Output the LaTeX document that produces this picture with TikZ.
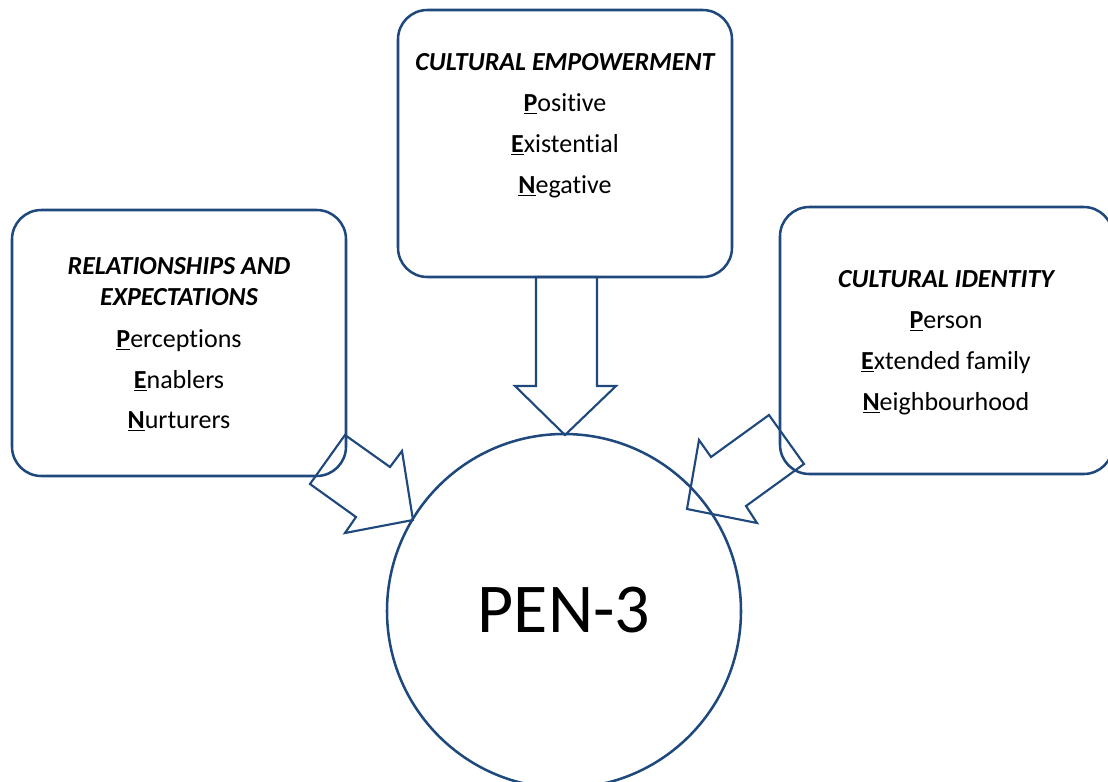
\documentclass[tikz,border=0pt]{standalone}
\usepackage{fontspec}
\setmainfont{Carlito}[RawFeature={-liga;-clig;-calt;-dlig}]
\definecolor{penblue}{RGB}{31,73,125}
\newcommand{\penletter}[1]{\setbox0\hbox{\textbf{#1}}\rlap{\rule[-2.6pt]{\wd0}{1.3pt}}\box0}
\tikzset{
  penbox/.style={draw=penblue,line width=1.9pt,rounded corners=22pt},
  penarrow/.style={draw=penblue,line width=1.6pt,line join=miter},
  pentitle/.style={anchor=base,font=\fontsize{19.5}{29}\selectfont\bfseries\itshape},
  penline/.style={anchor=base,font=\fontsize{19.5}{29}\selectfont},
}
\begin{document}
\begin{tikzpicture}[x=0.75pt,y=-0.75pt]
    \useasboundingbox (0,0) rectangle (1108,782);
    \clip (0,0) rectangle (1108,782);

    % the three boxes
    \draw[penbox] (398,10) rectangle (732,277);
    \draw[penbox] (12,210) rectangle (346,476);
    \draw[penbox] (780,207) rectangle (1113,474);

    % the circle
    \draw[penbox] (564,611) circle (177);
    \node[anchor=base,font=\fontsize{52.5}{60}\selectfont] (pen) at (564,632) {PEN-3};

    % top box
    \node[pentitle] (empower) at (565,70) {CULTURAL EMPOWERMENT};
    \node[penline] (positive) at (565,111) {\penletter{P}ositive};
    \node[penline] (existential) at (565,152) {\penletter{E}xistential};
    \node[penline] (negative) at (565,193) {\penletter{N}egative};

    % left box
    \node[pentitle] (relations) at (179,274) {RELATIONSHIPS AND};
    \node[pentitle] (expect) at (179,305) {EXPECTATIONS};
    \node[penline] (perceptions) at (179,347) {\penletter{P}erceptions};
    \node[penline] (enablers) at (179,388) {\penletter{E}nablers};
    \node[penline] (nurturers) at (179,428) {\penletter{N}urturers};

    % right box
    \node[pentitle] (identity) at (946,287) {CULTURAL IDENTITY};
    \node[penline] (person) at (946,328) {\penletter{P}erson};
    \node[penline] (family) at (946,369) {\penletter{E}xtended family};
    \node[penline] (neighbour) at (946,410) {\penletter{N}eighbourhood};

    % block arrows
    \draw[penarrow] (536,277) -- (536,386) -- (515,386) -- (565,435)
        -- (616,386) -- (597,386) -- (597,277) -- cycle;
    \draw[penarrow] (345,435) -- (390,467) -- (402,451) -- (413,520)
        -- (345,533) -- (356,517) -- (310,484) -- cycle;
    \draw[penarrow] (769,415) -- (711,457) -- (699,440) -- (687,509)
        -- (757,523) -- (746,506) -- (804,464) -- cycle;
\end{tikzpicture}
\end{document}
